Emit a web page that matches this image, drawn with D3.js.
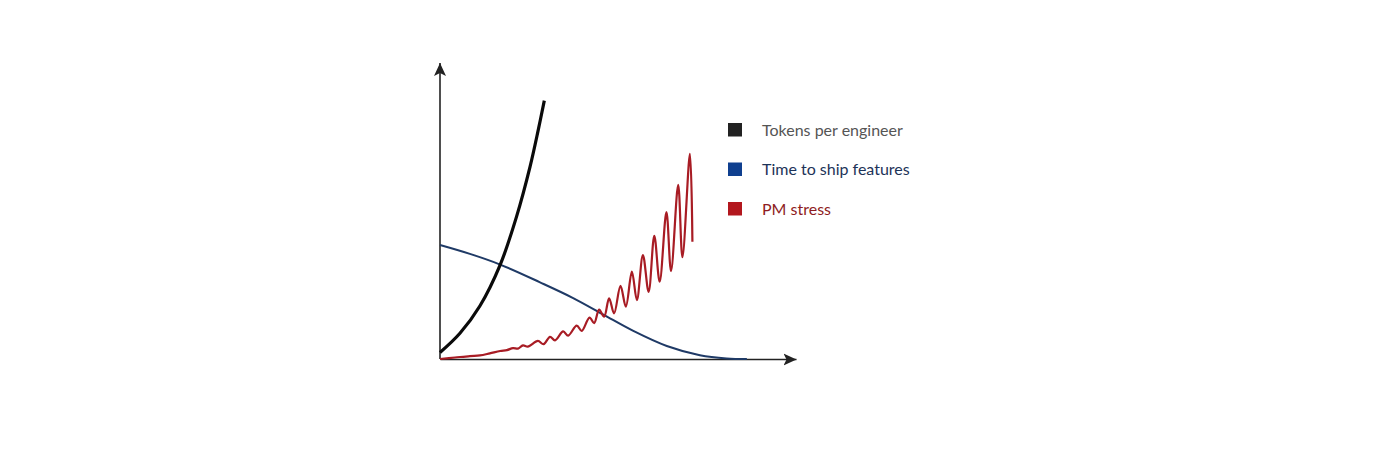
<!DOCTYPE html>
<meta charset="utf-8">
<title>Tokens vs time to ship</title>
<style>
  body { margin: 0; background: #fff; }
  text { font-family: Lato, "Open Sans", sans-serif; }
</style>
<body>
  <script src="https://d3js.org/d3.v7.min.js"></script>
  <script>
    const width = 1400;
    const height = 467;

    // x / y in arbitrary units (0-100)
    const tokensX = [0, 5.6, 11.2, 16.9, 21.5, 25.3, 27.6, 29.3];
    const tokensY = [2.2, 8.7, 17.9, 31.8, 48.1, 65.0, 77.4, 87.3];

    const shipX = [0, 8.4, 16.9, 28.1, 37.4, 45.9, 54.3, 63.7, 73.0, 80.5, 86.2];
    const shipY = [38.5, 35.5, 31.9, 25.9, 20.6, 15.0, 9.5, 4.4, 1.3, 0.2, 0];

    const stressX = [0, 4.2, 8.4, 11.2, 14.0, 16.9, 18.8, 20.5, 21.9, 23.3, 24.7,
      27.5, 29.1, 30.9, 32.3, 34.6, 36.0, 38.4, 39.8, 42.0, 43.3, 44.7, 46.1,
      47.5, 48.9, 50.7, 52.2, 53.9, 55.3, 57.0, 58.6, 60.2, 61.7, 63.6, 64.9,
      66.9, 68.1, 70.2, 70.9];
    const stressY = [0, 0.5, 1.0, 1.2, 1.9, 2.7, 3.0, 3.7, 3.5, 4.6, 4.2,
      6.1, 5.0, 7.5, 6.3, 9.3, 7.9, 11.3, 9.5, 14.0, 12.1, 16.7, 14.3,
      20.5, 15.4, 24.7, 17.7, 29.5, 19.9, 35.1, 22.7, 41.6, 26.1, 49.6, 29.7,
      58.8, 34.4, 69.3, 39.6];

    const legendNames = ["Tokens per engineer", "Time to ship features", "PM stress"];
    const legendSwatch = ["#222222", "#0f3f8f", "#b3171e"];
    const legendText = ["#555555", "#1d3358", "#8e1c22"];

    const zip = (xs, ys) => xs.map((x, i) => [x, ys[i]]);

    const svg = d3.select("body")
      .append("svg")
      .attr("width", width)
      .attr("height", height);

    // arrowhead for the axes
    svg.append("defs")
      .append("marker")
      .attr("id", "arrow")
      .attr("markerUnits", "userSpaceOnUse")
      .attr("viewBox", "0 -7 14 14")
      .attr("refX", 13)
      .attr("refY", 0)
      .attr("markerWidth", 14)
      .attr("markerHeight", 14)
      .attr("orient", "auto")
      .append("path")
      .attr("d", "M0,-6L13,0L0,6L3,0Z")
      .attr("fill", "#222");

    const g = svg.append("g")
      .attr("transform", "translate(440, 63)");

    const xScale = d3.scaleLinear().domain([0, 100]).range([0, 356]);
    const yScale = d3.scaleLinear().domain([0, 100]).range([296, 0]);

    // axes: no ticks, just the lines with arrows
    g.append("g")
      .attr("transform", "translate(0," + yScale(0) + ")")
      .call(d3.axisBottom(xScale).tickValues([]).tickSizeOuter(0))
      .select(".domain")
      .attr("stroke", "#222")
      .attr("stroke-width", 1.6)
      .attr("marker-end", "url(#arrow)");

    g.append("g")
      .call(d3.axisLeft(yScale).tickValues([]).tickSizeOuter(0))
      .select(".domain")
      .attr("stroke", "#222")
      .attr("stroke-width", 1.6)
      .attr("d", "M0," + yScale(0) + "V" + yScale(100))
      .attr("marker-end", "url(#arrow)");

    const curve = d3.line()
      .x(d => xScale(d[0]))
      .y(d => yScale(d[1]))
      .curve(d3.curveCatmullRom.alpha(0.5));

    g.append("path")
      .datum(zip(shipX, shipY))
      .attr("d", curve)
      .attr("fill", "none")
      .attr("stroke", "#1f3a66")
      .attr("stroke-width", 2);

    g.append("path")
      .datum(zip(stressX, stressY))
      .attr("d", curve)
      .attr("fill", "none")
      .attr("stroke", "#a81c24")
      .attr("stroke-width", 2.2)
      .attr("stroke-linejoin", "round");

    g.append("path")
      .datum(zip(tokensX, tokensY))
      .attr("d", curve)
      .attr("fill", "none")
      .attr("stroke", "#0a0a0a")
      .attr("stroke-width", 3.2);

    // legend
    const legend = svg.append("g")
      .attr("transform", "translate(728, 130)");

    const item = legend.selectAll("g")
      .data(legendNames)
      .enter()
      .append("g")
      .attr("transform", (d, i) => "translate(0," + i * 39.5 + ")");

    item.append("rect")
      .attr("x", 0)
      .attr("y", -7)
      .attr("width", 14)
      .attr("height", 13.5)
      .attr("fill", (d, i) => legendSwatch[i]);

    item.append("text")
      .attr("x", 34)
      .attr("y", 0)
      .attr("dy", "0.35em")
      .attr("font-size", 16)
      .attr("fill", (d, i) => legendText[i])
      .text(d => d);
  </script>
</body>
